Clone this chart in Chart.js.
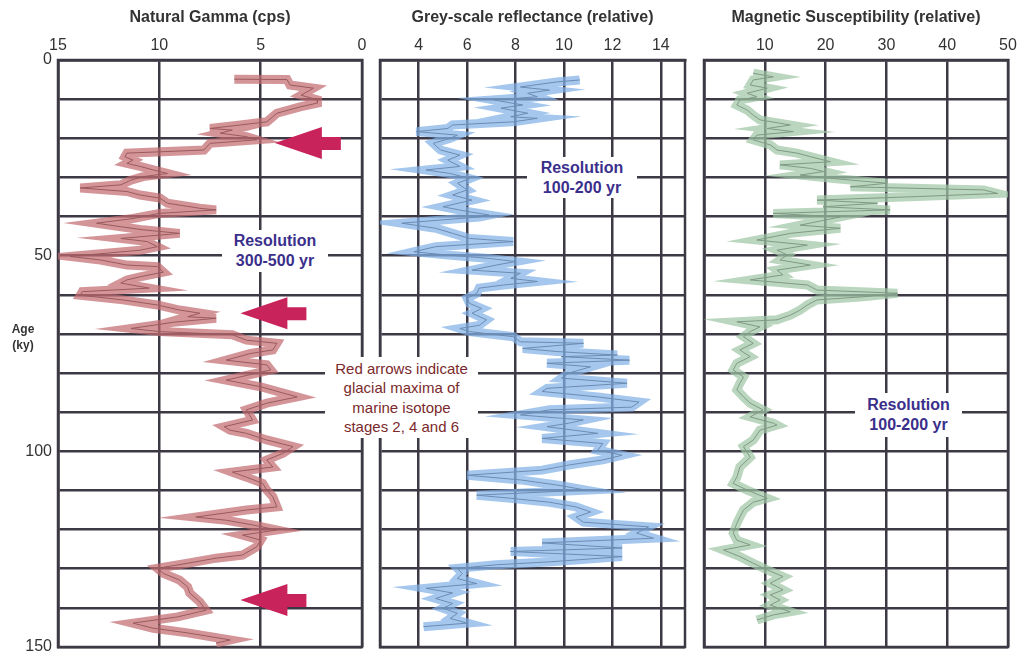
<!DOCTYPE html>
<html lang="en">
<head>
    <meta charset="UTF-8">
    <title>Core logs: Natural Gamma, Grey-scale, Magnetic Susceptibility</title>
    <script src="https://cdn.jsdelivr.net/npm/chart.js"></script>
    <style>
        body {
            margin: 0;
            padding: 0;
            background: #fff;
            font-family: "Liberation Sans", Arial, sans-serif;
        }
        .wrap {
            position: relative;
            width: 1023px;
            height: 652px;
            overflow: hidden;
        }
        canvas { position: absolute; top: 0; }
        .note {
            position: absolute;
            background: #fff;
            text-align: center;
            display: flex;
            flex-direction: column;
            justify-content: center;
        }
        .res {
            color: #3b2f8c;
            font-weight: bold;
            font-size: 16px;
            line-height: 20px;
        }
        .red {
            color: #7a2a2c;
            font-size: 15px;
            line-height: 19.5px;
        }
        .age {
            position: absolute;
            left: 6px;
            top: 321px;
            width: 34px;
            text-align: center;
            font-weight: bold;
            font-size: 12px;
            line-height: 16px;
            color: #333;
        }
    </style>
</head>
<body>
<div class="wrap">
    <canvas id="gammaChart" width="370" height="652" style="left:0"></canvas>
    <canvas id="greyChart" width="325" height="652" style="left:370px"></canvas>
    <canvas id="magChart" width="328" height="652" style="left:695px"></canvas>

    <div class="age">Age<br>(ky)</div>
    <div class="note res" style="left:222px;top:230px;width:106px;height:42px">Resolution<br>300-500 yr</div>
    <div class="note res" style="left:527px;top:157px;width:110px;height:41px">Resolution<br>100-200 yr</div>
    <div class="note res" style="left:855px;top:393px;width:107px;height:44px">Resolution<br>100-200 yr</div>
    <div class="note red" style="left:325px;top:357px;width:153px;height:81px">Red arrows indicate<br>glacial maxima of<br>marine isotope<br>stages 2, 4 and 6</div>
</div>

<script>
    // ---- data ----
    const gammaAge = [4.9, 5.0, 6.4, 7.2, 9.0, 10.2, 11.0, 12.0, 13.6, 14.5, 15.8, 16.6, 17.5, 17.9, 18.7, 19.6, 20.4, 21.3, 23.0, 23.8, 24.7, 25.6, 26.4, 27.2, 28.1, 29.0, 29.8, 30.7, 31.9, 32.7, 33.6, 34.5, 35.3, 36.6, 37.9, 38.3, 39.2, 40.5, 41.7, 42.6, 43.4, 44.3, 45.6, 46.4, 47.7, 48.6, 50.2, 51.1, 52.4, 52.8, 54.2, 55.4, 56.2, 57.0, 58.3, 59.2, 60.1, 61.3, 62.6, 63.9, 64.7, 65.6, 66.0, 67.0, 67.8, 68.6, 69.4, 70.2, 71.6, 72.4, 74.1, 75.0, 76.7, 77.9, 79.2, 81.8, 83.5, 86.1, 87.7, 89.4, 92.0, 93.7, 94.6, 95.4, 97.1, 98.8, 100.5, 102.2, 104.0, 105.3, 106.6, 108.2, 109.9, 111.6, 114.2, 115.0, 116.8, 117.6, 118.8, 120.1, 121.4, 122.7, 124.4, 126.5, 127.3, 128.6, 129.9, 131.2, 132.9, 134.7, 136.2, 138.5, 140.6, 142.3, 143.9, 145.2, 146.4, 148.2, 149.0];
    const gammaVal = [6.3, 3.7, 3.55, 2.4, 3.0, 2.2, 2.2, 3.06, 4.2, 4.4, 4.7, 6.0, 7.5, 6.4, 7.0, 5.7, 5.2, 7.5, 7.8, 11.6, 11.7, 11.3, 11.6, 10.95, 10.3, 9.6, 10.8, 11.4, 11.9, 13.9, 11.6, 10.95, 9.97, 9.6, 8.0, 7.2, 10.0, 11.3, 13.1, 11.9, 10.8, 9.0, 11.9, 10.6, 10.1, 10.95, 14.4, 12.9, 11.6, 10.1, 9.8, 10.95, 11.6, 11.9, 10.5, 13.8, 13.9, 11.8, 10.1, 9.0, 8.0, 8.6, 7.2, 9.3, 10.3, 11.4, 10.0, 6.4, 5.7, 4.2, 4.4, 5.5, 6.7, 4.7, 4.5, 6.7, 5.0, 3.2, 4.7, 5.7, 5.4, 6.8, 6.5, 5.7, 4.7, 3.4, 3.9, 4.7, 4.4, 6.4, 5.7, 4.9, 4.7, 4.4, 4.2, 5.7, 8.2, 6.7, 5.4, 4.2, 5.9, 5.0, 5.2, 5.9, 7.2, 8.6, 10.1, 9.8, 9.0, 8.6, 8.5, 8.0, 7.7, 9.1, 11.3, 10.3, 8.6, 6.5, 7.2];

    const greyAge = [5.1, 5.6, 6.9, 7.7, 8.5, 9.4, 10.2, 11.5, 12.3, 13.6, 14.5, 14.9, 15.8, 16.6, 17.5, 18.3, 19.2, 20.0, 21.3, 23.0, 24.3, 25.6, 27.2, 28.1, 29.0, 30.3, 31.5, 33.2, 34.5, 35.8, 37.5, 38.7, 39.6, 40.1, 41.7, 43.0, 44.3, 45.6, 46.4, 47.7, 49.0, 49.8, 50.7, 51.5, 52.4, 53.7, 54.5, 55.8, 56.6, 57.5, 58.3, 59.6, 60.9, 62.2, 63.5, 64.7, 66.4, 67.8, 68.6, 69.4, 70.7, 72.0, 72.4, 73.7, 74.5, 75.4, 75.8, 76.7, 77.5, 78.4, 80.0, 81.3, 82.6, 83.9, 84.7, 86.1, 87.4, 88.7, 89.4, 90.7, 92.0, 92.8, 93.7, 95.4, 96.7, 98.0, 99.7, 101.0, 102.2, 103.5, 104.8, 106.1, 107.3, 108.6, 109.9, 111.2, 112.0, 113.0, 114.2, 115.5, 116.8, 118.1, 119.3, 120.9, 122.2, 123.4, 124.7, 125.6, 126.9, 128.2, 129.0, 129.9, 131.2, 132.5, 133.8, 135.0, 136.2, 137.6, 138.9, 140.1, 141.4, 142.7, 143.9, 144.8];
    const greyVal = [10.65, 9.7, 8.2, 9.4, 8.5, 8.9, 7.1, 8.3, 7.4, 8.5, 7.8, 8.9, 7.9, 5.4, 5.2, 3.9, 5.6, 5.3, 4.6, 4.9, 5.7, 5.2, 5.7, 4.3, 5.3, 6.1, 5.6, 6.0, 5.4, 6.2, 5.0, 6.0, 6.9, 6.5, 3.3, 4.7, 5.4, 6.1, 7.9, 4.7, 3.8, 5.1, 6.9, 8.0, 7.2, 6.2, 8.2, 7.8, 8.9, 7.5, 6.5, 6.4, 6.0, 6.1, 6.6, 6.2, 6.8, 6.5, 5.7, 6.1, 7.9, 8.2, 10.8, 8.3, 9.7, 12.2, 9.9, 12.7, 9.3, 11.1, 10.2, 9.9, 12.6, 9.3, 9.1, 11.4, 13.1, 12.8, 9.4, 8.2, 10.8, 10.2, 9.3, 11.4, 9.1, 11.6, 11.4, 12.4, 11.6, 10.2, 9.1, 6.0, 8.2, 9.7, 10.9, 6.4, 7.8, 9.4, 10.5, 11.1, 10.5, 10.8, 13.5, 13.0, 13.7, 9.1, 12.4, 7.8, 12.4, 9.5, 7.2, 5.6, 5.8, 5.6, 6.4, 4.3, 5.4, 4.7, 5.4, 5.0, 5.6, 5.3, 6.0, 4.2];

    const magAge = [3.4, 4.3, 5.1, 6.4, 7.2, 8.5, 9.4, 10.2, 11.5, 12.8, 14.1, 15.3, 16.6, 17.5, 18.3, 19.2, 20.4, 21.7, 23.0, 23.8, 24.7, 26.0, 26.8, 27.7, 28.5, 29.4, 30.3, 31.5, 32.4, 33.2, 34.1, 34.9, 35.8, 36.6, 37.5, 38.3, 39.2, 40.1, 42.2, 43.0, 44.3, 46.0, 47.3, 48.6, 49.8, 51.1, 52.4, 53.7, 54.9, 56.2, 57.5, 58.8, 59.6, 60.5, 61.3, 62.6, 63.9, 65.2, 66.4, 66.9, 68.2, 69.4, 70.7, 72.4, 74.1, 75.8, 77.5, 79.2, 81.0, 82.6, 84.3, 86.1, 87.7, 89.4, 91.2, 92.8, 93.3, 94.6, 97.1, 98.8, 101.5, 104.0, 106.6, 108.2, 109.9, 112.0, 113.0, 115.0, 116.8, 118.4, 120.9, 122.7, 123.9, 125.2, 126.9, 128.6, 130.3, 132.0, 133.7, 135.4, 136.7, 138.0, 139.3, 141.0, 141.8, 143.1];
    const magVal = [8.1, 11.4, 8.1, 7.6, 10.4, 7.1, 8.7, 5.9, 5.4, 7.1, 8.1, 9.2, 14.2, 10.4, 14.7, 8.7, 8.1, 10.9, 12.0, 15.3, 17.5, 20.8, 12.5, 17.5, 19.7, 15.8, 21.3, 30.1, 24.1, 46.0, 48.3, 35.1, 18.6, 28.5, 19.6, 30.6, 11.4, 22.4, 15.8, 22.4, 14.2, 8.7, 17.0, 12.0, 13.7, 12.5, 17.5, 12.0, 13.0, 7.6, 17.0, 18.6, 31.8, 26.2, 18.6, 17.0, 15.8, 14.2, 12.0, 5.4, 9.2, 7.6, 6.5, 8.1, 5.9, 7.6, 5.4, 4.8, 6.5, 5.9, 5.4, 6.5, 7.6, 9.7, 7.6, 11.4, 12.0, 9.2, 8.1, 6.5, 7.6, 5.9, 5.4, 4.8, 7.1, 10.4, 8.1, 6.5, 5.9, 5.4, 4.8, 5.4, 7.6, 3.2, 5.9, 8.1, 10.4, 13.0, 10.9, 13.0, 10.9, 12.5, 10.9, 14.2, 11.4, 8.7];

    const greyTicks = [4, 6, 8, 10, 12, 14];

    // red arrows: age of arrow and gamma value where the tip points
    const arrowAges = [21.2, 64.7, 138.0];
    const arrowTips = [4.3, 6.0, 6.0];

    const gridColor = '#3c3844';
    const textColor = '#333';
    const fontFam = '"Liberation Sans", Arial, sans-serif';

    function zip(ages, vals) {
        return ages.map((a, i) => ({ x: vals[i], y: a }));
    }

    const framePlugin = {
        id: 'frame',
        beforeDatasetsDraw(chart) {
            const a = chart.chartArea;
            const ctx = chart.ctx;
            ctx.save();
            ctx.strokeStyle = gridColor;
            ctx.lineWidth = 2.5;
            ctx.strokeRect(a.left, a.top, a.right - a.left, a.bottom - a.top);
            ctx.restore();
        }
    };

    const arrowPlugin = {
        id: 'arrows',
        afterDatasetsDraw(chart) {
            const ctx = chart.ctx;
            const xs = chart.scales.x, ys = chart.scales.y;
            ctx.save();
            ctx.fillStyle = '#c8235a';
            arrowAges.forEach((age, i) => {
                const tx = xs.getPixelForValue(arrowTips[i]);
                const ty = ys.getPixelForValue(age);
                ctx.beginPath();
                ctx.moveTo(tx, ty);
                ctx.lineTo(tx + 47, ty - 16);
                ctx.lineTo(tx + 47, ty - 6);
                ctx.lineTo(tx + 66, ty - 6);
                ctx.lineTo(tx + 66, ty + 7);
                ctx.lineTo(tx + 47, ty + 7);
                ctx.lineTo(tx + 47, ty + 16);
                ctx.closePath();
                ctx.fill();
            });
            ctx.restore();
        }
    };

    function makeChart(id, title, points, bandColor, xOpts, yW, rightPad, showAge, extraPlugins) {
        const ctx = document.getElementById(id).getContext('2d');
        return new Chart(ctx, {
            type: 'scatter',
            data: {
                datasets: [
                    { data: points, showLine: true, borderColor: bandColor, borderWidth: 9,
                      borderJoinStyle: 'miter', pointRadius: 0, tension: 0 },
                    { data: points, showLine: true, borderColor: '#2e2a2a', borderWidth: 1,
                      pointRadius: 0, tension: 0 }
                ]
            },
            options: {
                responsive: false,
                animation: false,
                events: [],
                layout: { padding: { top: 0, bottom: 5, left: 0, right: rightPad } },
                plugins: { legend: { display: false }, tooltip: { enabled: false } },
                scales: {
                    x: Object.assign({
                        type: 'linear',
                        position: 'top',
                        title: { display: true, text: title, color: textColor,
                                 font: { family: fontFam, size: 16, weight: 'bold' },
                                 padding: { top: 8, bottom: 0 } },
                        grid: { color: gridColor, lineWidth: 2.5, drawTicks: false },
                        border: { color: gridColor, width: 2.5 },
                        afterFit(s) { s.height = 60; s.paddingLeft = 0; s.paddingRight = 0; }
                    }, xOpts),
                    y: {
                        type: 'linear',
                        reverse: true,
                        min: 0,
                        max: 150,
                        ticks: {
                            display: showAge,
                            stepSize: 10,
                            padding: 6,
                            color: textColor,
                            font: { family: fontFam, size: 16 },
                            callback: v => (v % 50 === 0 ? v : '')
                        },
                        grid: { color: gridColor, lineWidth: 2.5, drawTicks: false },
                        border: { color: gridColor, width: 2.5 },
                        afterFit(s) { s.width = yW; s.paddingTop = 0; s.paddingBottom = 0; }
                    }
                }
            },
            plugins: [framePlugin].concat(extraPlugins || [])
        });
    }

    const tickFont = { family: fontFam, size: 16 };

    makeChart('gammaChart', 'Natural Gamma (cps)', zip(gammaAge, gammaVal), 'rgba(196,108,114,0.72)', {
        reverse: true, min: 0, max: 15,
        ticks: { stepSize: 5, padding: 5, color: textColor, font: tickFont }
    }, 58, 8, true, [arrowPlugin]);

    makeChart('greyChart', 'Grey-scale reflectance (relative)', zip(greyAge, greyVal), 'rgba(130,178,232,0.72)', {
        min: 2.4, max: 15,
        ticks: { padding: 5, color: textColor, font: tickFont },
        afterBuildTicks(axis) { axis.ticks = greyTicks.map(v => ({ value: v })); }
    }, 10, 10, false);

    makeChart('magChart', 'Magnetic Susceptibility (relative)', zip(magAge, magVal), 'rgba(160,198,165,0.72)', {
        min: 0, max: 50,
        ticks: { stepSize: 10, padding: 5, color: textColor, font: tickFont,
                 callback: v => (v === 0 ? '' : v) }
    }, 9, 15, false);
</script>
</body>
</html>
